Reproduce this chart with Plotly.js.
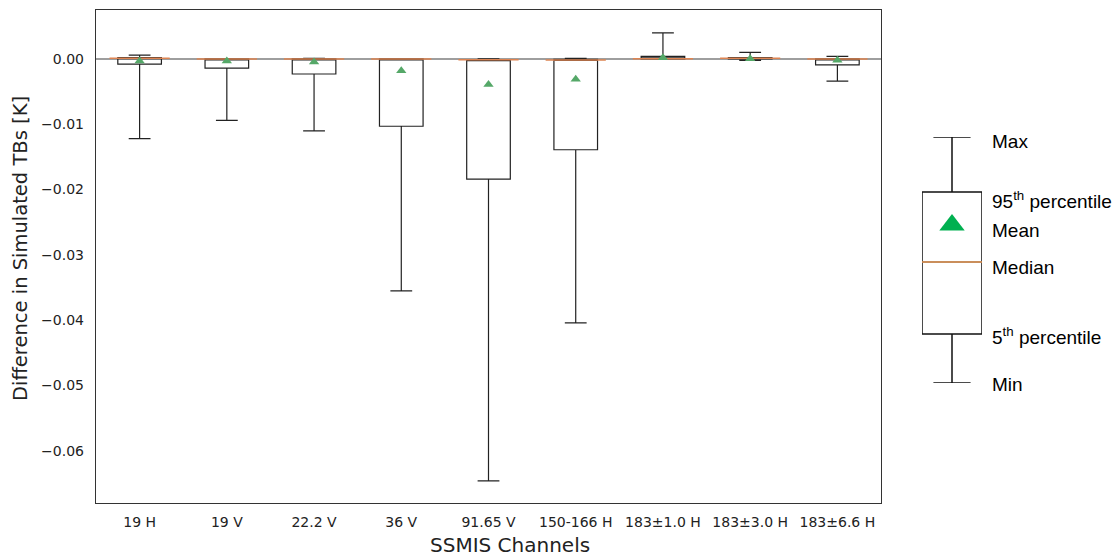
<!DOCTYPE html>
<html>
<head>
<meta charset="utf-8">
<script src="https://cdn.plot.ly/plotly-3.0.1.min.js"></script>
<style>html,body{margin:0;padding:0;background:#fff}#chart{width:1118px;height:556px}</style>
</head>
<body>
<div id="chart"></div>
<script>
// ---- data ----
var channels = ["19 H","19 V","22.2 V","36 V","91.65 V","150-166 H","183\u00b11.0 H","183\u00b13.0 H","183\u00b16.6 H"];
var maxVals  = [0.0006, 0.0000, 0.0001, 0.0000, 0.0000, 0.0001, 0.0040, 0.0010, 0.0004];
var p95Vals  = [0.0002, 0.0000, 0.0000, 0.0000,-0.0001,-0.00005,0.0004, 0.0002, 0.0000];
var medVals  = [0.0001, 0.0000, 0.0000, 0.0000,-0.0001,-0.00015,0.00005,0.0001, 0.0000];
var meanVals = [-0.0003,-0.0003,-0.00046,-0.0018,-0.0039,-0.0031,0.0002, 0.00005,-0.0002];
var p5Vals   = [-0.0008,-0.0014,-0.0023,-0.0103,-0.0184,-0.0139,0.0000, 0.0000,-0.0009];
var minVals  = [-0.0122,-0.0094,-0.0110,-0.0355,-0.0646,-0.0404,0.0000,-0.0002,-0.0034];

var yTicks = [0.00,-0.01,-0.02,-0.03,-0.04,-0.05,-0.06];
var yTickText = ["0.00","\u22120.01","\u22120.02","\u22120.03","\u22120.04","\u22120.05","\u22120.06"];

var xTitle = "SSMIS Channels";
var yTitle = "Difference in Simulated TBs [K]";

// schematic key (arbitrary units)
var keyLabels = ["Max","95<sup>th</sup> percentile","Mean","Median","5<sup>th</sup> percentile","Min"];
var keyMin = 0, keyP5 = 49, keyMedian = 121, keyMean = 158, keyP95 = 191, keyMax = 246;
var keyLabelPos = [242, 183, 153, 116, 47, -1];

var idx = channels.map(function(_, i){ return i; });
var medianColor = "#dd8452", meanColor = "#55a868";

var traces = [
  {
    type: "box", x: idx, q1: p5Vals, median: medVals, q3: p95Vals,
    lowerfence: minVals, upperfence: maxVals,
    width: 0.5, whiskerwidth: 0.5,
    fillcolor: "rgba(255,255,255,0)",
    line: {color: "#222", width: 1.2},
    hoverinfo: "skip", showlegend: false, xaxis: "x", yaxis: "y"
  },
  {
    type: "scatter", mode: "markers", x: idx, y: medVals,
    marker: {symbol: "line-ew", size: 43, line: {color: medianColor, width: 1.5}},
    hoverinfo: "skip", showlegend: false, xaxis: "x", yaxis: "y"
  },
  {
    type: "scatter", mode: "markers", x: idx, y: meanVals,
    marker: {symbol: "triangle-up", size: 9, color: meanColor},
    hoverinfo: "skip", showlegend: false, xaxis: "x", yaxis: "y"
  },
  // key
  {
    type: "box", x: [0], q1: [keyP5], median: [keyMedian], q3: [keyP95],
    lowerfence: [keyMin], upperfence: [keyMax],
    width: 1, whiskerwidth: 0.62,
    fillcolor: "rgba(255,255,255,0)",
    line: {color: "#111", width: 1.5},
    hoverinfo: "skip", showlegend: false, xaxis: "x2", yaxis: "y2"
  },
  {
    type: "scatter", mode: "markers", x: [0], y: [keyMedian],
    marker: {symbol: "line-ew", size: 60, line: {color: "#f4a460", width: 1.5}},
    hoverinfo: "skip", showlegend: false, xaxis: "x2", yaxis: "y2"
  },
  {
    type: "scatter", mode: "markers", x: [0], y: [keyMean],
    marker: {symbol: "triangle-up", size: 22, color: "#00b050"},
    hoverinfo: "skip", showlegend: false, xaxis: "x2", yaxis: "y2"
  }
];

var plotW = 1118 - 96 - 8, plotH = 556 - 10 - 53;
function px2dom(px){ return (px - 96) / plotW; }
function py2dom(py){ return (503 - py) / plotH; }
// key axis: y2 units map linearly onto pixels 383 (min) .. 137 (max)
var keyBottomPx = 383, keyTopPx = 137;
function key2paperY(v){
  var ypx = keyBottomPx - (v - keyMin) / (keyMax - keyMin) * (keyBottomPx - keyTopPx);
  return py2dom(ypx);
}

var annotations = keyLabels.map(function(t, i){
  return {text: t, xref: "paper", yref: "paper", x: px2dom(990), y: key2paperY(keyLabelPos[i]),
          xanchor: "left", yanchor: "middle", showarrow: false,
          font: {family: "Liberation Sans, Arial, sans-serif", size: 19, color: "#000"}};
});
annotations.push({text: xTitle, xref: "paper", yref: "paper", x: px2dom(510), y: py2dom(545),
  xanchor: "center", yanchor: "middle", showarrow: false,
  font: {family: "DejaVu Sans, sans-serif", size: 20, color: "#222"}});
annotations.push({text: yTitle, xref: "paper", yref: "paper", x: px2dom(20), y: py2dom(249),
  xanchor: "center", yanchor: "middle", showarrow: false, textangle: -90,
  font: {family: "DejaVu Sans, sans-serif", size: 19.5, color: "#222"}});

var layout = {
  width: 1118, height: 556,
  margin: {l: 96, r: 8, t: 10, b: 53},
  paper_bgcolor: "#fff", plot_bgcolor: "#fff",
  showlegend: false,
  xaxis: {
    domain: [0, px2dom(881)],
    range: [-0.5, 8.5],
    tickmode: "array", tickvals: idx, ticktext: channels,
    ticks: "", showgrid: false, zeroline: false,
    showline: true, mirror: true, linecolor: "#333", linewidth: 1.2,
    tickfont: {family: "DejaVu Sans, sans-serif", size: 14, color: "#222"},
    ticklabelstandoff: 6,
    fixedrange: true
  },
  yaxis: {
    range: [-0.068, 0.0075],
    tickmode: "array", tickvals: yTicks, ticktext: yTickText,
    ticks: "", showgrid: false,
    zeroline: true, zerolinecolor: "#9e9e9e", zerolinewidth: 1.3,
    showline: true, mirror: true, linecolor: "#333", linewidth: 1.2,
    tickfont: {family: "DejaVu Sans, sans-serif", size: 14, color: "#222"},
    ticklabelstandoff: 8,
    fixedrange: true
  },
  xaxis2: {
    domain: [px2dom(922), px2dom(982)], range: [-0.5, 0.5], anchor: "y2",
    visible: false, fixedrange: true
  },
  yaxis2: {
    domain: [py2dom(keyBottomPx), py2dom(keyTopPx)], range: [keyMin, keyMax], anchor: "x2",
    visible: false, fixedrange: true
  },
  annotations: annotations
};

Plotly.newPlot("chart", traces, layout, {displayModeBar: false, staticPlot: true});
</script>
</body>
</html>
